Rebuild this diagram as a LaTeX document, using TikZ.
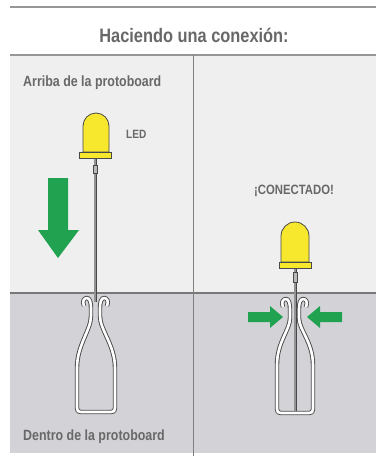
\documentclass[tikz,border=0pt]{standalone}
\usepackage{fontspec}
\setmainfont{Liberation Sans}[FakeStretch=0.84]
\definecolor{upperbg}{RGB}{239,239,239}
\definecolor{lowerbg}{RGB}{211,211,215}
\definecolor{ruleg}{RGB}{150,150,150}
\definecolor{textg}{RGB}{104,104,104}
\definecolor{ledyellow}{RGB}{247,231,45}
\definecolor{outline}{RGB}{72,72,72}
\definecolor{arrowgreen}{RGB}{32,162,80}
\begin{document}
\begin{tikzpicture}[x=1pt,y=-1pt,
  rulestyle/.style={draw=ruleg,line width=1.5pt},
  caption/.style={text=textg,font=\bfseries\fontsize{14.8}{16}\selectfont,inner sep=0pt},
  ledbody/.style={fill=ledyellow,draw=outline,line width=0.8pt},
  lead/.style={draw=outline,line width=0.7pt,double=gray!85,double distance=1.6pt},
  crimp/.style={fill=gray!55,draw=outline,line width=0.6pt},
  clip/.style={draw=outline,line width=0.9pt,double=white,double distance=2.6pt,line join=round},
  greenarrow/.style={fill=arrowgreen,draw=none}]
\useasboundingbox (0,0) rectangle (376,456);
\fill[white] (0,0) rectangle (376,456);

% panel backgrounds
\fill[upperbg] (10,55) rectangle (376,293);
\fill[lowerbg] (10,293) rectangle (376,453);

% rules
\draw[rulestyle] (10,7) -- (376,7);
\draw[rulestyle] (10,55) -- (376,55);
\draw[draw=ruleg!80!black,line width=1.2pt] (10,293) -- (376,293);
\draw[draw=gray,line width=1.5pt] (193.5,55) -- (193.5,456);

% title and captions
\node[text=textg,font=\bfseries\fontsize{19.5}{22}\selectfont,inner sep=0pt] (title) at (194,35) {Haciendo una conexión:};
\node[caption,anchor=west] (above) at (23,83) {Arriba de la protoboard};
\node[caption,anchor=west] (inside) at (23,437) {Dentro de la protoboard};
\node[caption,font=\bfseries\fontsize{12}{14}\selectfont,anchor=west] (ledlabel) at (126,134) {LED};
\node[caption,font=\bfseries\fontsize{13.5}{15}\selectfont] (connected) at (294,191) {¡CONECTADO!};

% ---- left panel: LED above the board ----
\draw[lead] (95,158) -- (95,302);
\draw[crimp] (93,165) rectangle (97,173);
\draw[ledbody] (83,152) -- (83,126) arc[start angle=180,end angle=360,radius=13] -- (109,152) -- cycle;
\draw[ledbody] (79,152) rectangle (111,158);

% open contact clip
\draw[clip] (84,306) .. controls (82,301) and (84,298) .. (87,298)
  .. controls (90,298) and (91,303) .. (91,308)
  -- (91,316) .. controls (91,330) and (77,345) .. (77,368)
  -- (77,408) .. controls (77,411) and (78,412) .. (81,412)
  -- (111,412) .. controls (114,412) and (115,411) .. (115,408)
  -- (115,368) .. controls (115,345) and (100,330) .. (100,316)
  -- (100,308) .. controls (100,303) and (101,298) .. (104,298)
  .. controls (107,298) and (109,301) .. (107,306);

% downward arrow
\path[greenarrow] (48,178) -- (68,178) -- (68,230) -- (79,230) -- (58,258) -- (38,230) -- (48,230) -- cycle;

% ---- right panel: LED pushed into the clip ----
\draw[clip] (283,307) .. controls (281,302) and (283,299) .. (286,299)
  .. controls (289,299) and (290,304) .. (290,309)
  -- (290,318) .. controls (290,330) and (277,342) .. (277,365)
  -- (277,409) .. controls (277,412) and (278,413) .. (281,413)
  -- (309,413) .. controls (312,413) and (313,412) .. (313,409)
  -- (313,365) .. controls (313,342) and (299,330) .. (299,318)
  -- (299,309) .. controls (299,304) and (300,299) .. (303,299)
  .. controls (306,299) and (308,302) .. (306,307);
\draw[lead] (295,268) -- (295,411);
\draw[crimp] (293,272) rectangle (297,282);
\draw[ledbody] (281,262) -- (281,236) arc[start angle=180,end angle=360,radius=14] -- (309,262) -- cycle;
\draw[ledbody] (279,262) rectangle (311,268);

% squeezing arrows
\path[greenarrow] (248,312) -- (270,312) -- (270,306) -- (283,317) -- (270,328) -- (270,322) -- (248,322) -- cycle;
\path[greenarrow] (342,312) -- (320,312) -- (320,306) -- (307,317) -- (320,328) -- (320,322) -- (342,322) -- cycle;
\end{tikzpicture}
\end{document}
